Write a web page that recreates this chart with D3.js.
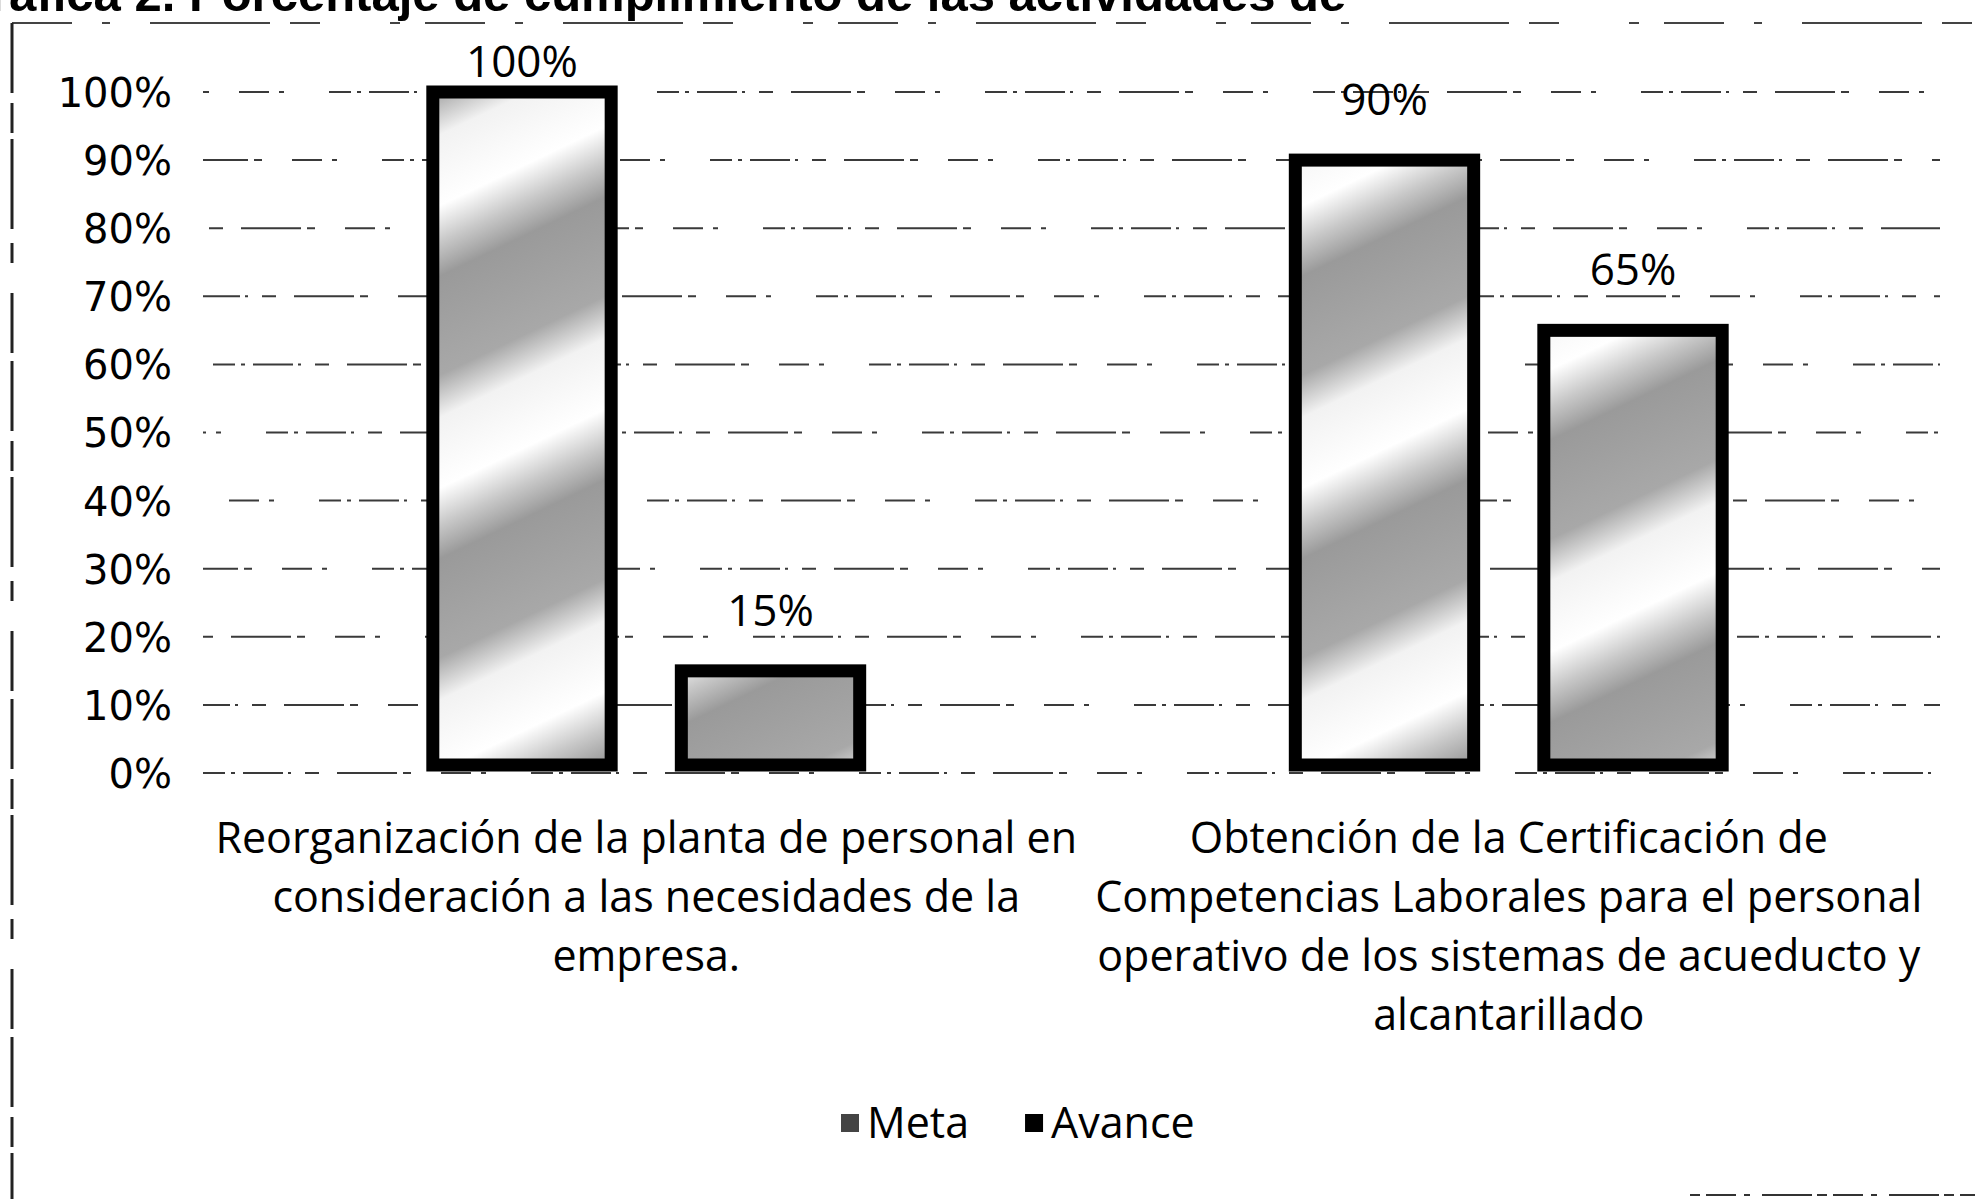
<!DOCTYPE html>
<html>
<head>
<meta charset="utf-8">
<script src="https://cdn.jsdelivr.net/npm/d3@7"></script>
<style>
  html, body { margin: 0; padding: 0; background: #fff; }
  svg { display: block; }
</style>
</head>
<body>
<div id="chart"></div>
<script>
// datos
const categorias = [
  ["Reorganización de la planta de personal en", "consideración a las necesidades de la", "empresa."],
  ["Obtención de la Certificación de", "Competencias Laborales para el personal", "operativo de los sistemas de acueducto y", "alcantarillado"]
];
const series = ["Meta", "Avance"];
const meta = [1.00, 0.90];
const avance = [0.15, 0.65];
const yTicks = [0, 0.1, 0.2, 0.3, 0.4, 0.5, 0.6, 0.7, 0.8, 0.9, 1.0];
const titulo = "Gráfica 2. Porcentaje de cumplimiento de las actividades de";

const W = 1975, H = 1199;
const svg = d3.select("#chart").append("svg")
  .attr("width", W).attr("height", H)
  .attr("viewBox", [0, 0, W, H]);

// relleno gris en bandas diagonales (escaneo)
const defs = svg.append("defs");
const grad = defs.append("linearGradient")
  .attr("id", "bandas")
  .attr("gradientUnits", "userSpaceOnUse")
  .attr("spreadMethod", "repeat")
  .attr("x1", 0).attr("y1", 0).attr("x2", 110).attr("y2", 230);
[[0, "#9a9a9a"], [0.35, "#a8a8a8"], [0.5, "#f2f2f2"], [0.75, "#ffffff"], [0.88, "#c8c8c8"], [1, "#9a9a9a"]]
  .forEach(s => grad.append("stop").attr("offset", s[0]).attr("stop-color", s[1]));

const margin = { top: 92, right: 35, bottom: 426, left: 215 };
const x0 = d3.scaleBand()
  .domain(d3.range(categorias.length))
  .range([margin.left, W - margin.right])
  .paddingInner(0.49).paddingOuter(0.245);
const x1 = d3.scaleBand()
  .domain(series)
  .range([0, x0.bandwidth()])
  .paddingInner(0.23);
const y = d3.scaleLinear().domain([0, 1]).range([H - margin.bottom, margin.top]);

// titulo cortado arriba
svg.append("text")
  .attr("x", -48).attr("y", 11)
  .style("font-family", "'Liberation Sans', Arial, sans-serif")
  .style("font-weight", "bold")
  .style("font-size", "49px")
  .text(titulo);

// borde del grafico, punteado como el escaneo
svg.append("line")
  .attr("x1", 12).attr("x2", W).attr("y1", 23).attr("y2", 23)
  .style("stroke", "#444").style("stroke-width", 2)
  .style("stroke-dasharray", "60 30 8 40 120 20 30 70 10 25");
svg.append("line")
  .attr("x1", 12).attr("x2", 12).attr("y1", 23).attr("y2", H)
  .style("stroke", "#222").style("stroke-width", 3)
  .style("stroke-dasharray", "70 10 30 6 90 14 20 30 60 8");
svg.append("line")
  .attr("x1", 1690).attr("x2", W).attr("y1", 1195).attr("y2", 1195)
  .style("stroke", "#333").style("stroke-width", 2)
  .style("stroke-dasharray", "10 6 30 8 6 12 50 5");

// lineas de cuadricula
const grid = svg.append("g");
grid.selectAll("line")
  .data(yTicks)
  .enter()
  .append("line")
  .attr("x1", margin.left - 12)
  .attr("x2", W - margin.right)
  .attr("y1", d => y(d)).attr("y2", d => y(d))
  .style("stroke", "#3a3a3a")
  .style("stroke-width", 2)
  .style("stroke-dasharray", "22 6 4 8 40 5 3 14 14 18 60 6 8 30 30 10 5 45")
  .style("stroke-dashoffset", (d, i) => i * 53);

// eje y
const yAxis = svg.append("g")
  .attr("transform", `translate(${margin.left - 43},0)`)
  .call(d3.axisLeft(y).tickValues(yTicks).tickFormat(d3.format(".0%")).tickSize(0).tickPadding(0));
yAxis.select(".domain").remove();
yAxis.selectAll("text")
  .attr("dy", "0.36em")
  .style("font-family", "'DejaVu Sans', Verdana, sans-serif")
  .style("font-size", "40px")
  .style("fill", "#000");

// barras
const datos = categorias.map((c, i) => ({ i, valores: [meta[i], avance[i]] }));
const sw = 13;
const grupos = svg.append("g").selectAll("g")
  .data(datos)
  .enter()
  .append("g")
  .attr("transform", d => `translate(${x0(d.i)},0)`);

grupos.selectAll("rect")
  .data(d => d.valores.map((v, k) => ({ serie: series[k], v })))
  .enter()
  .append("rect")
  .attr("x", d => x1(d.serie) + sw / 2)
  .attr("width", x1.bandwidth() - sw)
  .attr("y", d => y(d.v))
  .attr("height", d => y(0) - y(d.v) - 8)
  .style("fill", "url(#bandas)")
  .style("stroke", "#000")
  .style("stroke-width", sw);

// etiquetas de datos
grupos.selectAll("text.valor")
  .data(d => d.valores.map((v, k) => ({ serie: series[k], v })))
  .enter()
  .append("text")
  .attr("class", "valor")
  .attr("x", d => x1(d.serie) + x1.bandwidth() / 2)
  .attr("y", d => Math.max(y(d.v) - 45, 77))
  .style("text-anchor", "middle")
  .style("font-family", "'Open Sans', sans-serif")
  .style("font-size", "44px")
  .text(d => d3.format(".0%")(d.v));

// etiquetas de categorias
svg.append("g").selectAll("text")
  .data(datos)
  .enter()
  .append("text")
  .attr("x", d => x0(d.i) + x0.bandwidth() / 2)
  .attr("y", 853)
  .style("text-anchor", "middle")
  .style("font-family", "'Open Sans', sans-serif")
  .style("font-size", "43px")
  .each(function(d) {
    d3.select(this).selectAll("tspan")
      .data(categorias[d.i])
      .enter()
      .append("tspan")
      .attr("x", x0(d.i) + x0.bandwidth() / 2)
      .attr("dy", (t, k) => k == 0 ? 0 : 59)
      .text(t => t);
  });

// leyenda
const colores = ["#444", "#000"];
const leyenda = svg.append("g").attr("transform", "translate(841,1123)");
let lx = 0;
series.forEach((s, k) => {
  leyenda.append("rect")
    .attr("x", lx).attr("y", -9).attr("width", 18).attr("height", 18)
    .style("fill", colores[k]);
  const t = leyenda.append("text")
    .attr("x", lx + 26).attr("y", 15)
    .style("font-family", "'Open Sans', sans-serif")
    .style("font-size", "43px")
    .text(s);
  lx += 26 + t.node().getComputedTextLength() + 56;
});
</script>
</body>
</html>
